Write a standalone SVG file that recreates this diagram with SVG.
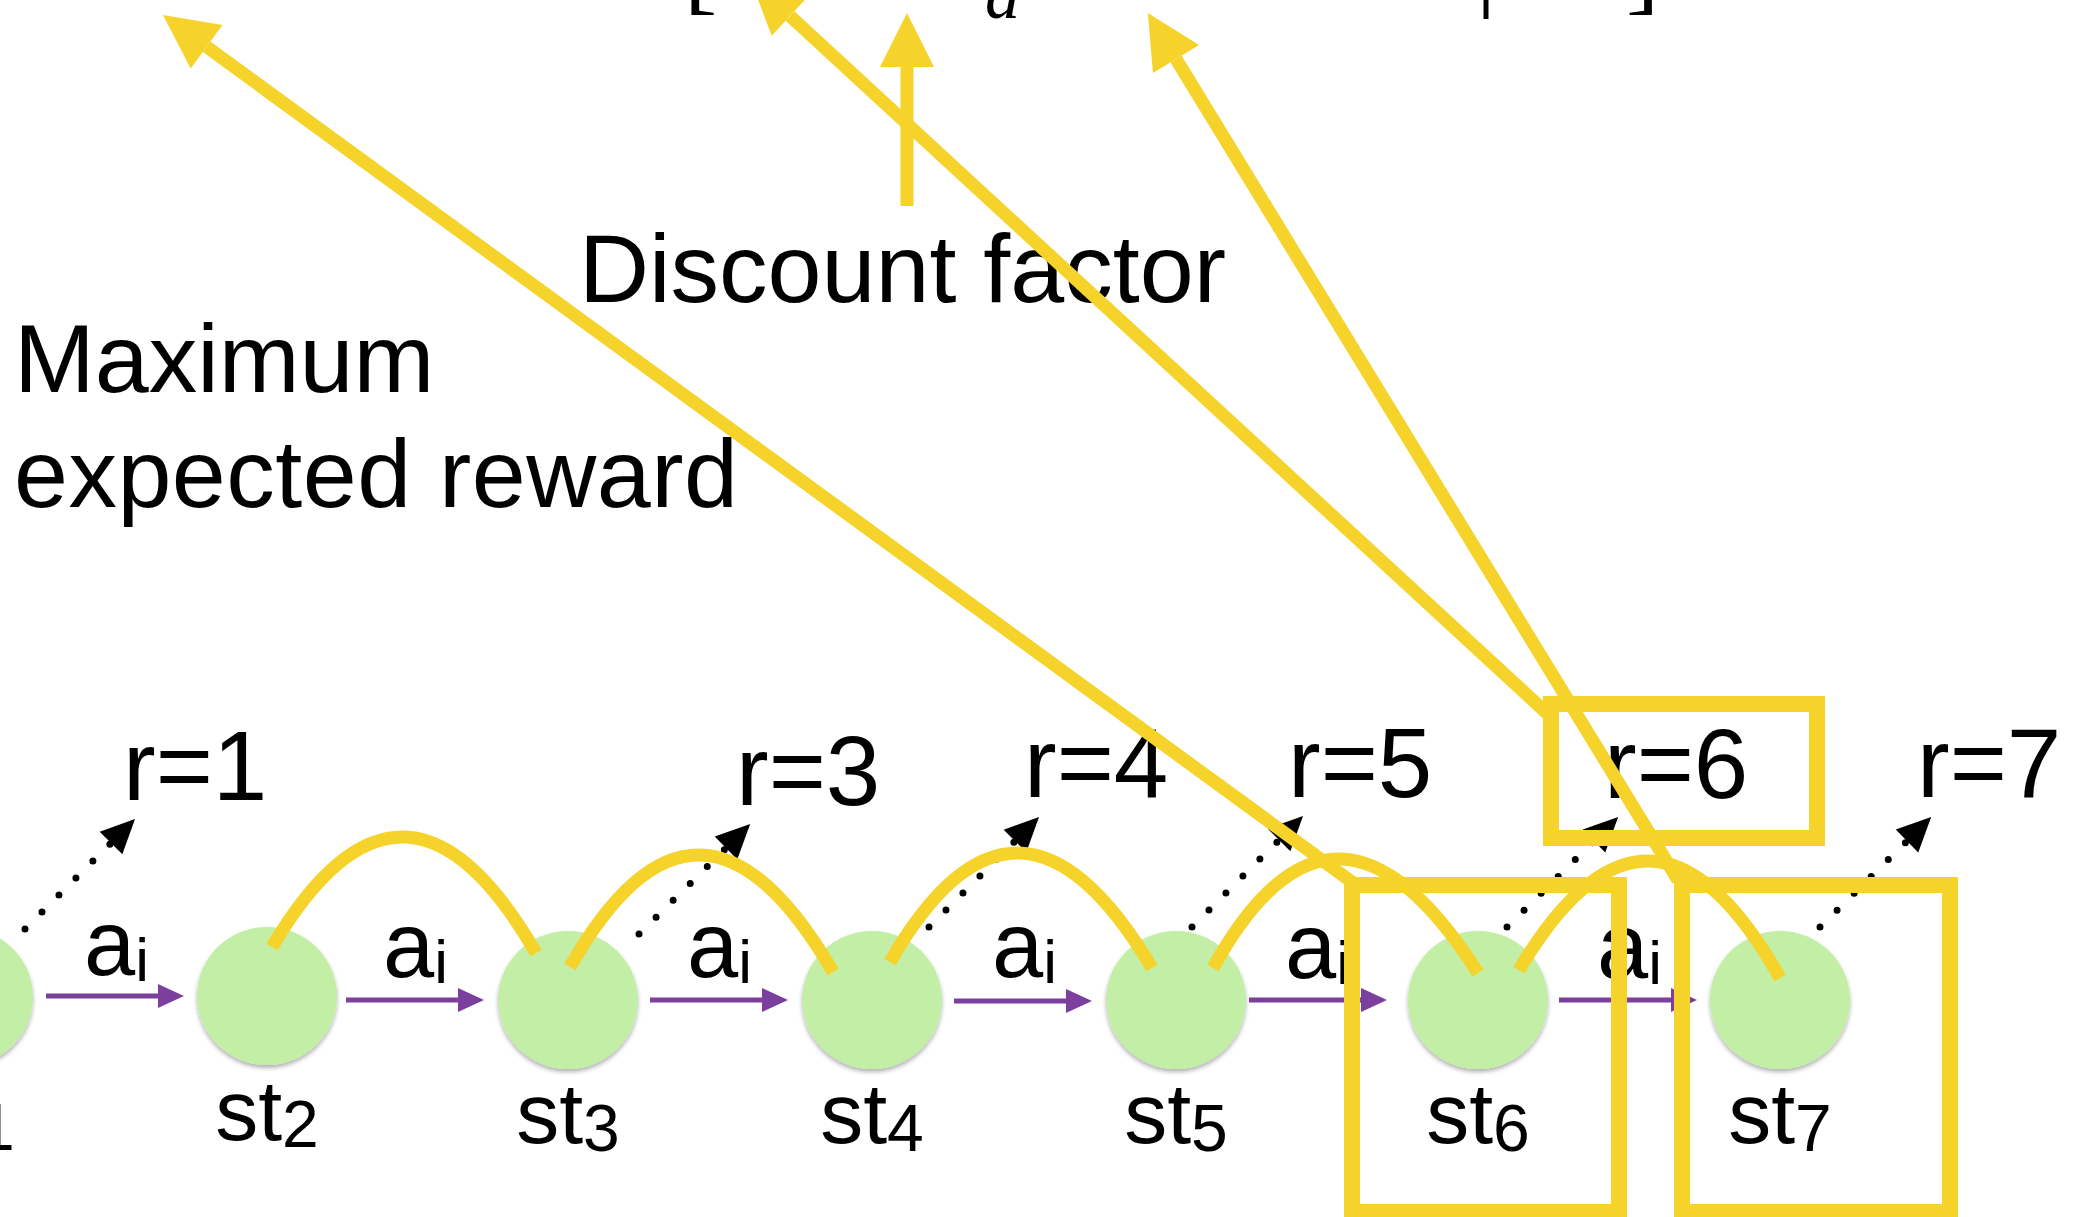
<svg xmlns="http://www.w3.org/2000/svg" width="2088" height="1217" viewBox="0 0 2088 1217">
<style>
  text { font-family: "Liberation Sans", Arial, sans-serif; fill: #000; }
  .big { font-size: 97px; }
  .rlab { font-size: 98px; }
  .alab { font-size: 92px; }
  .asub { font-size: 62px; }
  .stlab { font-size: 86px; }
  .stsub { font-size: 66px; }
  .math { font-family: "Liberation Serif", "Times New Roman", serif; font-size: 100px; }
  .mathi { font-family: "Liberation Serif", "Times New Roman", serif; font-size: 70px; font-style: italic; }
  .node { fill: #C2EEA6; filter: url(#shadow); }
  .act { fill: none; stroke: #7B3F9E; stroke-width: 5; marker-end: url(#purpleHead); }
  .dot { fill: none; stroke: #000; stroke-width: 7; stroke-linecap: round; stroke-dasharray: 0 24; marker-end: url(#blackHead); }
  .arc { fill: none; stroke: #F5D32B; stroke-width: 13; }
  .yline { fill: none; stroke: #F5D32B; stroke-width: 13; marker-end: url(#yellowHead); }
  .box { fill: none; stroke: #F5D32B; stroke-width: 16; }
</style>
<defs>
  <filter id="shadow" x="-20%" y="-20%" width="140%" height="150%">
    <feDropShadow dx="0" dy="3" stdDeviation="2" flood-color="#000" flood-opacity="0.3"/>
  </filter>
  <marker id="purpleHead" markerUnits="userSpaceOnUse" markerWidth="26" markerHeight="24" refX="0" refY="12" orient="auto" overflow="visible">
    <path d="M0,0 L26,12 L0,24 z" fill="#7B3F9E"/>
  </marker>
  <marker id="blackHead" markerUnits="userSpaceOnUse" markerWidth="34" markerHeight="32" refX="0" refY="16" orient="auto" overflow="visible">
    <path d="M0,0 L34,16 L0,32 z" fill="#000"/>
  </marker>
  <marker id="yellowHead" markerUnits="userSpaceOnUse" markerWidth="54" markerHeight="54" refX="0" refY="27" orient="auto" overflow="visible">
    <path d="M0,0 L54,27 L0,54 z" fill="#F5D32B"/>
  </marker>
</defs>
<rect width="2088" height="1217" fill="#fff"/>

<!-- formula fragments, cut at the top edge as in the reference -->
<g id="formula">
  <text class="math" x="684" y="2">[</text>
  <text class="mathi" x="985" y="18">a</text>
  <text class="math" x="1476" y="-2">|</text>
  <text class="math" x="1626" y="2">]</text>
</g>

<g id="connectors">
  <g id="rewards-links">
    <path class="dot" d="M25,929 L111,843"/>
    <path class="dot" d="M639,934 L726,848"/>
    <path class="dot" d="M929,927 L1015,841"/>
    <path class="dot" d="M1192,927 L1279,840"/>
    <path class="dot" d="M1507,927 L1594,841"/>
    <path class="dot" d="M1820,927 L1907,841"/>
  </g>
  <g id="actions">
    <path class="act" d="M46,996 L158,996"/>
    <path class="act" d="M346,1000 L458,1000"/>
    <path class="act" d="M650,1000 L762,1000"/>
    <path class="act" d="M954,1001 L1066,1001"/>
    <path class="act" d="M1249,1000 L1361,1000"/>
    <path class="act" d="M1559,1000 L1671,1000"/>
  </g>
</g>

<g id="st1"><ellipse class="node" cx="-37" cy="997" rx="70" ry="69"/><text class="stlab" x="-37" y="1142" text-anchor="middle">st<tspan class="stsub" dy="8">1</tspan></text></g>
<g id="st2"><ellipse class="node" cx="267" cy="996" rx="70" ry="69"/><text class="stlab" x="267" y="1140" text-anchor="middle">st<tspan class="stsub" dy="7">2</tspan></text></g>
<g id="st3"><ellipse class="node" cx="568" cy="1000" rx="70" ry="69"/><text class="stlab" x="568" y="1143" text-anchor="middle">st<tspan class="stsub" dy="8">3</tspan></text></g>
<g id="st4"><ellipse class="node" cx="872" cy="1000" rx="70" ry="69"/><text class="stlab" x="872" y="1143" text-anchor="middle">st<tspan class="stsub" dy="8">4</tspan></text></g>
<g id="st5"><ellipse class="node" cx="1176" cy="1000" rx="70" ry="69"/><text class="stlab" x="1176" y="1143" text-anchor="middle">st<tspan class="stsub" dy="8">5</tspan></text></g>
<g id="st6"><ellipse class="node" cx="1478" cy="1000" rx="70" ry="69"/><text class="stlab" x="1478" y="1143" text-anchor="middle">st<tspan class="stsub" dy="8">6</tspan></text></g>
<g id="st7"><ellipse class="node" cx="1780" cy="1000" rx="70" ry="69"/><text class="stlab" x="1780" y="1143" text-anchor="middle">st<tspan class="stsub" dy="8">7</tspan></text></g>

<g id="action-labels">
  <text class="alab" x="84" y="975">a<tspan class="asub" dy="6">i</tspan></text>
  <text class="alab" x="383" y="977">a<tspan class="asub" dy="6">i</tspan></text>
  <text class="alab" x="687" y="977">a<tspan class="asub" dy="6">i</tspan></text>
  <text class="alab" x="992" y="977">a<tspan class="asub" dy="6">i</tspan></text>
  <text class="alab" x="1285" y="978">a<tspan class="asub" dy="6">i</tspan></text>
  <text class="alab" x="1597" y="978">a<tspan class="asub" dy="6">i</tspan></text>
</g>

<g id="reward-labels">
  <text class="rlab" x="123" y="800">r=1</text>
  <text class="rlab" x="736" y="805">r=3</text>
  <text class="rlab" x="1024" y="797">r=4</text>
  <text class="rlab" x="1288" y="797">r=5</text>
  <text class="rlab" x="1604" y="798">r=6</text>
  <text class="rlab" x="1917" y="797">r=7</text>
</g>

<g id="captions">
  <text class="big" x="579" y="302">Discount factor</text>
  <text class="big" x="14" y="392">Maximum</text>
  <text class="big" x="14" y="507" textLength="724" lengthAdjust="spacing">expected reward</text>
</g>

<g id="highlights">
  <g id="arcs">
    <path class="arc" d="M272,947 Q404,724 536,953"/>
    <path class="arc" d="M570,967 Q698.5,740.5 833,972"/>
    <path class="arc" d="M890,962 Q1017,741 1152,968"/>
    <path class="arc" d="M1213,968 Q1334.5,747.5 1478,973"/>
    <path class="arc" d="M1519,970 Q1650.5,748 1780,978"/>
  </g>
  <g id="boxes">
    <rect class="box" x="1551" y="704" width="266" height="134"/>
    <rect class="box" x="1352" y="885" width="267" height="327"/>
    <rect class="box" x="1682" y="885" width="268" height="327"/>
  </g>
  <g id="pointers">
    <path class="yline" d="M1352,882 L206.6,46.8"/>
    <path class="yline" d="M1550,716 L790,16"/>
    <path class="yline" d="M1678,880 L1176,59"/>
    <path class="yline" d="M907,206 L907,67"/>
  </g>
</g>
</svg>
